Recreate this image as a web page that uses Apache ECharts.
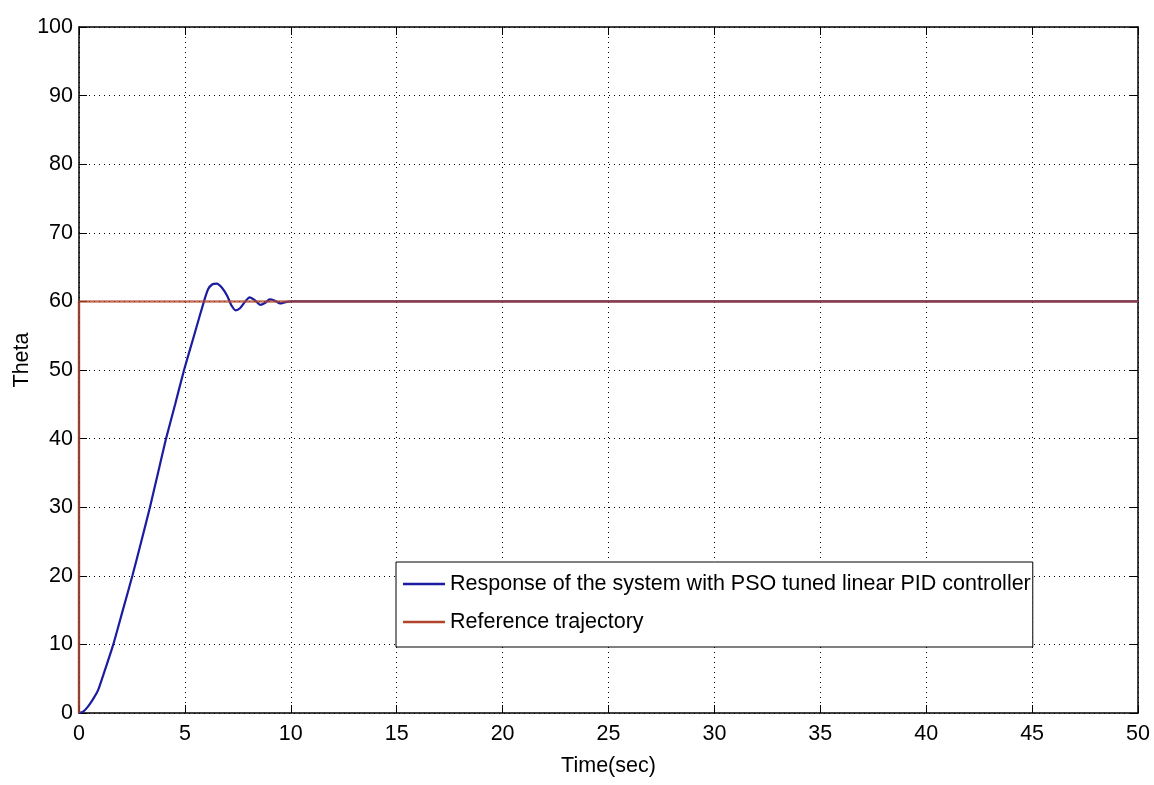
<!DOCTYPE html>
<html>
<head>
<meta charset="utf-8">
<script src="https://cdn.jsdelivr.net/npm/echarts@6/dist/echarts.min.js"></script>
<style>html,body{margin:0;padding:0;background:#fff;}#c{width:1154px;height:785px;}</style>
</head>
<body>
<div id="c"></div>
<script>
// ---- data ----
const respTime  = [0, 0.2, 0.44, 0.7, 0.91, 1.25, 1.62, 2.07, 2.52, 2.94, 3.35, 3.73, 4.11, 4.54, 4.96, 5.43, 5.9, 6.1, 6.3, 6.5, 6.75, 7.0, 7.2, 7.4, 7.6, 7.85, 8.05, 8.3, 8.55, 8.8, 9.0, 9.25, 9.5, 9.75, 10, 50];
const respTheta = [0, 0.2, 1.0, 2.2, 3.4, 6.5, 10, 15, 20, 25, 30, 35, 40, 45, 50, 55, 60, 61.8, 62.5, 62.6, 62.0, 60.8, 59.4, 58.7, 59.0, 60.0, 60.6, 60.2, 59.5, 59.8, 60.3, 60.1, 59.7, 59.9, 60, 60];
const refTime  = [0, 0, 50];
const refTheta = [0, 60, 60];
const seriesNames = ['Response of the system with PSO tuned linear PID controller', 'Reference trajectory'];
const xTitle = 'Time(sec)';
const yTitle = 'Theta';

const zip = (a, b) => a.map((v, i) => [v, b[i]]);
const font = 'Liberation Sans, Arial, sans-serif';

const chart = echarts.init(document.getElementById('c'));
chart.setOption({
  animation: false,
  backgroundColor: '#fff',
  grid: { left: 79, right: 16, top: 27, bottom: 72, containLabel: false, outerBoundsMode: 'none' },
  legend: {
    orient: 'vertical',
    left: 396, top: 562,
    backgroundColor: '#fff',
    borderColor: '#000', borderWidth: 1,
    padding: [10, 2, 13, 7],
    itemGap: 14,
    itemWidth: 42, itemHeight: 2.5,
    icon: 'rect',
    textStyle: { fontFamily: font, fontSize: 21.5, color: '#000', lineHeight: 24 },
    data: seriesNames
  },
  xAxis: [{
    type: 'value', min: 0, max: 50, interval: 5,
    name: xTitle, nameLocation: 'middle', nameGap: 42, nameMoveOverlap: false,
    nameTextStyle: { fontFamily: font, fontSize: 21.5, color: '#000' },
    axisLine: { show: true, onZero: false, lineStyle: { color: '#000', width: 1.5 } },
    axisTick: { show: true, inside: true, length: 8, lineStyle: { color: '#000' } },
    axisLabel: { fontFamily: font, fontSize: 21.5, color: '#000', margin: 10 },
    splitLine: { show: true, lineStyle: { color: '#000', type: [1, 4], width: 1 } }
  }, {
    type: 'value', min: 0, max: 50, interval: 5, position: 'top',
    axisLine: { show: true, onZero: false, lineStyle: { color: '#000', width: 1.5 } },
    axisTick: { show: true, inside: true, length: 8, lineStyle: { color: '#000' } },
    axisLabel: { show: false }, splitLine: { show: false }
  }],
  yAxis: [{
    type: 'value', min: 0, max: 100, interval: 10,
    name: yTitle, nameLocation: 'middle', nameGap: 46, nameMoveOverlap: false,
    nameTextStyle: { fontFamily: font, fontSize: 21.5, color: '#000', padding: [0, 0, 0, 20] },
    axisLine: { show: true, onZero: false, lineStyle: { color: '#000', width: 1.5 } },
    axisTick: { show: true, inside: true, length: 8, lineStyle: { color: '#000' } },
    axisLabel: { fontFamily: font, fontSize: 21.5, color: '#000', margin: 6 },
    splitLine: { show: true, lineStyle: { color: '#000', type: [1, 4], width: 1 } }
  }, {
    type: 'value', min: 0, max: 100, interval: 10, position: 'right',
    axisLine: { show: true, onZero: false, lineStyle: { color: '#000', width: 1.5 } },
    axisTick: { show: true, inside: true, length: 8, lineStyle: { color: '#000' } },
    axisLabel: { show: false }, splitLine: { show: false }
  }],
  series: [{
    name: seriesNames[0], type: 'line', showSymbol: false, smooth: 0.2,
    data: zip(respTime, respTheta),
    color: '#1c1ca0',
    lineStyle: { color: '#1c1ca0', width: 2.2 }, z: 3
  }, {
    name: seriesNames[1], type: 'line', showSymbol: false,
    data: zip(refTime, refTheta),
    color: '#b0452c',
    lineStyle: { color: '#b0452c', width: 2.5, opacity: 0.75 }, z: 4
  }]
});
</script>
</body>
</html>
